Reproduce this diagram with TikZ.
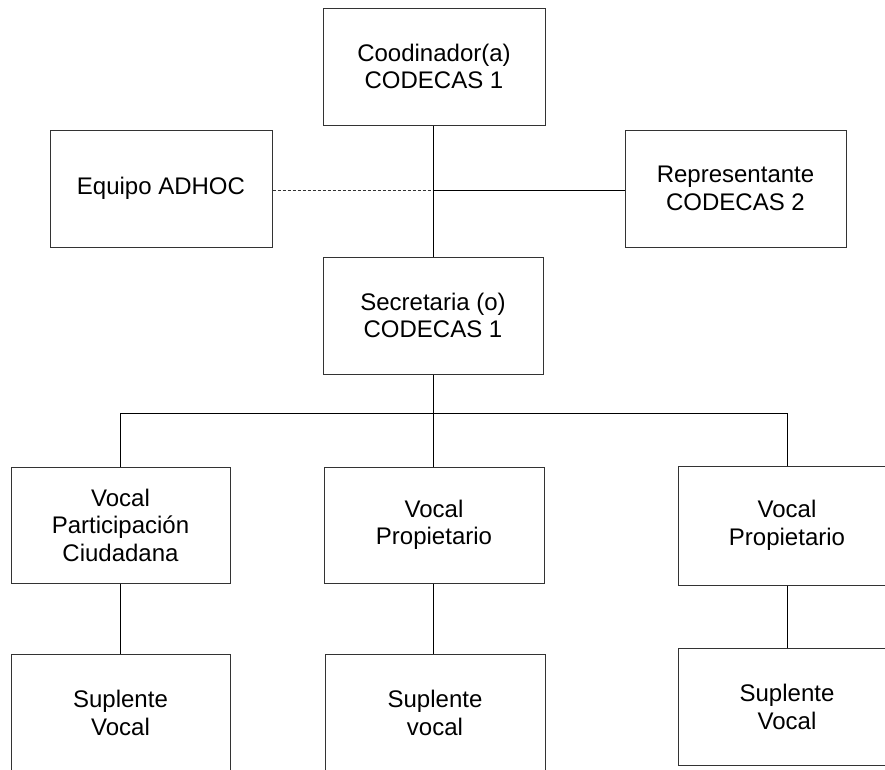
\documentclass[tikz,border=0pt]{standalone}
\usepackage{fontspec}
\setmainfont{Liberation Sans}
\begin{document}
\begin{tikzpicture}[x=1pt,y=-1pt,
  box/.style={draw=black!80,line width=1pt,fill=white,rectangle,inner sep=0pt,align=center,
    font=\fontsize{24}{27.5}\selectfont},
  conn/.style={draw=black,line width=1pt},
  dconn/.style={draw=black!80,line width=1pt,dash pattern=on 3pt off 2pt}]
\useasboundingbox[fill=white] (0,0) rectangle (885,769);
\begin{scope}
\clip (0,0) rectangle (885,769);
\node[box,minimum width=222pt,minimum height=117pt] (coord) at (434,66.5) {Coodinador(a)\\CODECAS 1};
\node[box,minimum width=222pt,minimum height=117pt] (adhoc) at (161,188.5) {Equipo ADHOC};
\node[box,minimum width=221pt,minimum height=117pt] (rep) at (735.5,188.5) {Representante\\CODECAS 2};
\node[box,minimum width=220pt,minimum height=117pt] (sec) at (433,315.5) {Secretaria (o)\\CODECAS 1};
\node[box,minimum width=219pt,minimum height=116pt] (v1) at (120.5,525) {Vocal\\Participación\\Ciudadana};
\node[box,minimum width=220pt,minimum height=116pt] (v2) at (434,525) {Vocal\\Propietario};
\node[box,minimum width=218pt,minimum height=119pt] (v3) at (787,525.5) {Vocal\\Propietario};
\node[box,minimum width=219pt,minimum height=117pt] (s1) at (120.5,713) {Suplente\\Vocal};
\node[box,minimum width=220pt,minimum height=117pt] (s2) at (435,713) {Suplente\\vocal};
\node[box,minimum width=218pt,minimum height=117pt] (s3) at (787,707) {Suplente\\Vocal};
\coordinate (j) at (433,190);
\coordinate (b) at (433,413);
\coordinate (b1) at (120,413);
\coordinate (b3) at (787,413);
\draw[conn] (coord.south -| j) -- (sec.north -| j);
\draw[dconn] (adhoc.east |- j) -- (j);
\draw[conn] (j) -- (rep.west |- j);
\draw[conn] (sec.south -| b) -- (b);
\draw[conn] (b1) -- (b3);
\draw[conn] (b) -- (v2.north -| b);
\draw[conn] (b1) -- (v1.north -| b1);
\draw[conn] (b3) -- (v3.north -| b3);
\draw[conn] (v1.south -| b1) -- (s1.north -| b1);
\draw[conn] (v2.south -| b) -- (s2.north -| b);
\draw[conn] (v3.south -| b3) -- (s3.north -| b3);
\end{scope}
\end{tikzpicture}
\end{document}
